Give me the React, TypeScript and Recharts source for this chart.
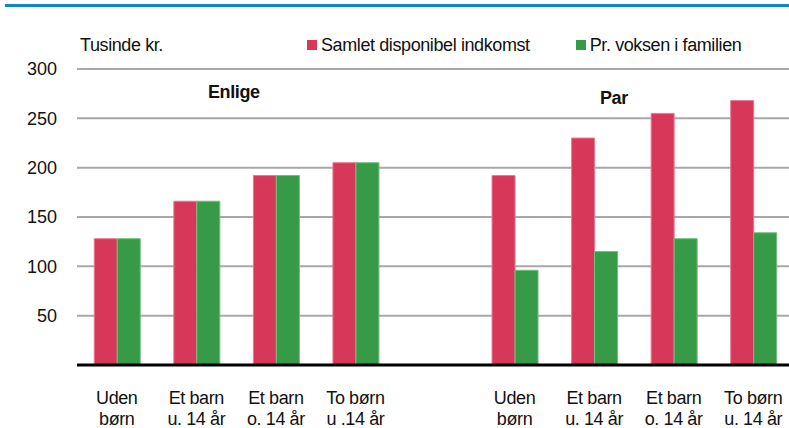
import { BarChart, Bar, XAxis, YAxis, CartesianGrid } from "recharts";

const categories = [
  "Uden\nbørn",
  "Et barn\nu. 14 år",
  "Et barn\no. 14 år",
  "To børn\nu .14 år",
  "",
  "Uden\nbørn",
  "Et barn\nu. 14 år",
  "Et barn\no. 14 år",
  "To børn\nu. 14 år",
];
const samlet = [128, 166, 192, 205, null, 192, 230, 255, 268];
const prVoksen = [128, 166, 192, 205, null, 96, 115, 128, 134];
const yTicks = [50, 100, 150, 200, 250, 300];

const RED = "#d7385a";
const GREEN = "#369a47";
const FONT = "'Liberation Sans Narrow', 'Arial Narrow', 'Liberation Sans', Arial, sans-serif";

const series = [
  { key: "samlet", name: "Samlet disponibel indkomst", color: RED, edge: "#e8798f" },
  { key: "voksen", name: "Pr. voksen i familien", color: GREEN, edge: "#72bd7f" },
];

const data = categories.map((c, i) => ({
  key: i,
  label: c,
  samlet: samlet[i],
  voksen: prVoksen[i],
}));

function CatTick(props: any) {
  const { x, y, payload } = props;
  const lines = String(data[payload.value]?.label ?? "").split("\n");
  return (
    <text x={x} y={y} textAnchor="middle" fontFamily={FONT} fontSize={18} fill="#111" letterSpacing={-0.4}>
      {lines.map((l, i) => (
        <tspan key={i} x={x} dy={i === 0 ? 31 : 21}>
          {l}
        </tspan>
      ))}
    </text>
  );
}

const txt = { position: "absolute" as const, fontFamily: FONT, fontSize: 18, color: "#111", letterSpacing: -0.4, lineHeight: "20px", zIndex: 2 };

export default function App() {
  return (
    <div style={{ position: "absolute", left: 0, top: 0, width: 789, height: 428, overflow: "hidden", background: "#fff" }}>
      <div style={{ position: "absolute", left: 5, top: 4, width: 784, height: 3, background: "#0f86c8" }} />
      <div style={{ ...txt, left: 80, top: 35 }}>Tusinde kr.</div>
      <div style={{ ...txt, left: 307, top: 35, display: "flex" }}>
        {series.map((s, i) => (
          <div key={s.key} style={{ display: "flex", alignItems: "center", marginRight: i === 0 ? 46 : 0 }}>
            <span style={{ width: 10, height: 10, background: s.color, display: "inline-block", marginRight: 4 }} />
            <span>{s.name}</span>
          </div>
        ))}
      </div>
      <div style={{ ...txt, left: 208, top: 82, fontWeight: "bold" }}>Enlige</div>
      <div style={{ ...txt, left: 600, top: 88, fontWeight: "bold" }}>Par</div>
      <BarChart
        width={795}
        height={428}
        data={data}
        margin={{ top: 69, right: 2, left: 0, bottom: 0 }}
        barCategoryGap="21.7%"
        barGap={0}
      >
        <CartesianGrid vertical={false} stroke="#a8a8a8" strokeWidth={2} />
        <XAxis
          dataKey="key"
          height={63}
          tickLine={false}
          axisLine={{ stroke: "#000", strokeWidth: 3 }}
          tick={<CatTick />}
          interval={0}
        />
        <YAxis
          width={77}
          domain={[0, 300]}
          ticks={yTicks}
          axisLine={false}
          tickLine={false}
          tickSize={0}
          tickMargin={20}
          tick={{ fontFamily: FONT, fontSize: 18, fill: "#111" }}
        />
        {series.map((s) => (
          <Bar
            key={s.key}
            dataKey={s.key}
            name={s.name}
            fill={s.color}
            stroke={s.edge}
            strokeWidth={1}
            isAnimationActive={false}
          />
        ))}
      </BarChart>
    </div>
  );
}
